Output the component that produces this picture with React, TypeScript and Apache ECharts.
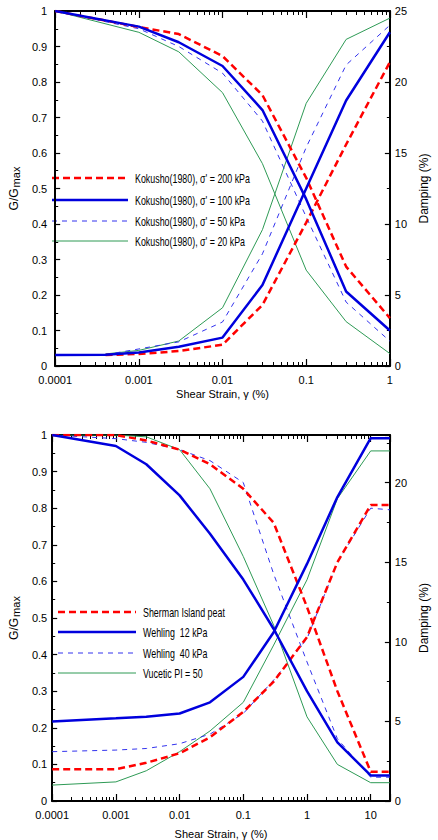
import React, { useEffect, useRef } from 'react';
import * as echarts from 'echarts';

// ---------- Top chart (Kokusho 1980) ----------
const topStrainG = [1e-4, 1e-3, 3e-3, 0.01, 0.03, 0.1, 0.3, 1];
const kok200G = [1.0, 0.955, 0.935, 0.873, 0.763, 0.53, 0.28, 0.135];
const kok100G = [1.0, 0.956, 0.912, 0.845, 0.721, 0.47, 0.21, 0.1];
const kok50G = [1.0, 0.95, 0.9, 0.825, 0.69, 0.42, 0.18, 0.07];
const kok20G = [1.0, 0.94, 0.885, 0.77, 0.57, 0.27, 0.125, 0.035];

const topStrainD = [1e-4, 4e-4, 1e-3, 3e-3, 0.01, 0.03, 0.1, 0.3, 1];
const kok200D = [null, 0.77, 0.85, 1.05, 1.5, 4.3, 10.1, 15.6, 21.4];
const kok100D = [0.77, 0.8, 0.95, 1.35, 2.0, 5.7, 12.5, 18.7, 23.5];
const kok50D = [null, 0.8, 1.2, 1.7, 3.1, 7.9, 15.4, 21.2, 24.0];
const kok20D = [null, 0.85, 1.1, 1.76, 4.1, 9.6, 18.5, 23.0, 24.5];

const topNames = [
  "Kokusho(1980), σ' = 200 kPa",
  "Kokusho(1980), σ' = 100 kPa",
  "Kokusho(1980), σ' = 50 kPa",
  "Kokusho(1980), σ' = 20 kPa",
];
const topStrainTicks = ['0.0001', '0.001', '0.01', '0.1', '1'];

// ---------- Bottom chart (peat / organic soils) ----------
const botStrain = [1e-4, 1e-3, 3e-3, 0.01, 0.03, 0.1, 0.3, 1, 3, 10, 20];
const shermanG = [1.0, 1.0, 0.985, 0.96, 0.92, 0.853, 0.76, 0.53, 0.3, 0.08, 0.08];
const wehling12G = [1.0, 0.97, 0.92, 0.835, 0.73, 0.605, 0.47, 0.3, 0.16, 0.07, 0.07];
const wehling40G = [1.0, 0.99, 0.98, 0.96, 0.93, 0.87, 0.62, 0.38, 0.17, 0.065, 0.065];
const vuceticG = [1.0, 1.0, 0.995, 0.96, 0.853, 0.668, 0.48, 0.23, 0.1, 0.05, 0.05];

const shermanD = [2.0, 2.0, 2.4, 3.0, 4.0, 5.6, 7.5, 10.3, 15.0, 18.6, 18.6];
const wehling12D = [5.0, 5.2, 5.3, 5.5, 6.2, 7.8, 10.6, 14.9, 19.1, 22.8, 22.8];
const wehling40D = [3.1, 3.2, 3.3, 3.6, 4.2, 5.5, 7.6, 10.2, 15.0, 18.4, 18.3];
const vuceticD = [1.0, 1.2, 1.9, 3.1, 4.4, 6.2, 9.8, 13.9, 19.0, 22.0, 22.0];

const botNames = ['Sherman Island peat', 'Wehling  12 kPa', 'Wehling  40 kPa', 'Vucetic PI = 50'];
const botStrainTicks = ['0.0001', '0.001', '0.01', '0.1', '1', '10'];

const FONT = '"Liberation Sans", Arial, sans-serif';

const styles = [
  { color: '#ff0000', width: 2.5, type: [7, 4] as any, dash: [7, 4] },
  { color: '#0000dd', width: 2.5, type: 'solid', dash: null },
  { color: '#3333ee', width: 1, type: [5, 5] as any, dash: [5, 5] },
  { color: '#2e9a55', width: 1, type: 'solid', dash: null },
];

function pairs(xs: number[], ys: (number | null)[]) {
  const out: number[][] = [];
  xs.forEach((x, i) => {
    const y = ys[i];
    if (y !== null && y !== undefined) out.push([x, y]);
  });
  return out;
}

function xFormatter(labels: string[]) {
  return (v: number) => {
    const l = Math.log10(v);
    const k = Math.round(l);
    if (Math.abs(l - k) > 1e-6) return '';
    return labels[k + 4] ?? '';
  };
}

// minor tick positions of a log axis (2..9 times each power of ten)
function logMinorTicks(min: number, max: number) {
  const out: number[] = [];
  for (let k = Math.floor(Math.log10(min)); k <= Math.ceil(Math.log10(max)); k++) {
    for (let m = 2; m <= 9; m++) {
      const v = parseFloat((m * Math.pow(10, k)).toPrecision(6));
      if (v > min && v < max) out.push(v);
    }
  }
  return out;
}

export default function App() {
  const ref = useRef<HTMLDivElement>(null);
  useEffect(() => {
    if (!ref.current) return;
    const chart = echarts.init(ref.current, undefined, { renderer: 'svg' });
    const axisLine = { show: true, lineStyle: { color: '#000', width: 2 } };
    const labelStyle = { color: '#000', fontFamily: FONT, fontSize: 11 };
    const logX = (grid: number, max: number, labels: string[], top: boolean, minor: boolean, nameGap: number) => ({
      type: 'log',
      logBase: 10,
      gridIndex: grid,
      min: 1e-4,
      max,
      position: top ? 'top' : 'bottom',
      axisLine: minor ? { show: false } : axisLine,
      axisTick: minor
        ? { show: true, inside: true, length: 4, customValues: logMinorTicks(1e-4, max), lineStyle: { color: '#000', width: 1 } }
        : { show: true, inside: true, length: 7, lineStyle: { color: '#000', width: 1.2 } },
      splitLine: { show: false },
      axisLabel:
        top || minor
          ? { show: false }
          : { ...labelStyle, margin: 8, formatter: xFormatter(labels), showMinLabel: true, showMaxLabel: true },
      name: top || minor ? '' : 'Shear Strain, γ (%)',
      nameLocation: 'middle',
      nameGap,
      nameTextStyle: { ...labelStyle, fontSize: 11 },
    });
    const gAxis = (grid: number, margin: number) => ({
      type: 'value',
      gridIndex: grid,
      min: 0,
      max: 1,
      interval: 0.1,
      position: 'left',
      axisLine,
      axisTick: { show: true, inside: true, length: 5, lineStyle: { color: '#000', width: 1.2 } },
      minorTick: { show: true, splitNumber: 2, length: 3, lineStyle: { color: '#000', width: 1 } },
      splitLine: { show: false },
      axisLabel: { ...labelStyle, margin },
      name: 'G/G{s|max}',
      nameLocation: 'middle',
      nameRotate: 90,
      nameGap: 20,
      nameTextStyle: { ...labelStyle, fontSize: 12, rich: { s: { fontFamily: FONT, fontSize: 11, color: '#000', padding: [3, 0, 0, 1] } } },
    });
    const dAxis = (grid: number, max: number) => ({
      type: 'value',
      gridIndex: grid,
      min: 0,
      max,
      interval: 5,
      position: 'right',
      axisLine,
      axisTick: { show: true, inside: true, length: 5, lineStyle: { color: '#000', width: 1.2 } },
      minorTick: { show: true, splitNumber: 2, length: 3, lineStyle: { color: '#000', width: 1 } },
      splitLine: { show: false },
      axisLabel: { ...labelStyle, margin: 5, formatter: (v: number) => (v % 5 === 0 ? String(v) : '') },
      name: 'Damping (%)',
      nameLocation: 'middle',
      nameRotate: 90,
      nameGap: 15,
      nameTextStyle: { ...labelStyle, fontSize: 12 },
    });

    const series: any[] = [];
    const addSeries = (name: string, st: any, data: number[][], xi: number, yi: number) => {
      series.push({
        type: 'line',
        name,
        data,
        xAxisIndex: xi,
        yAxisIndex: yi,
        symbol: 'none',
        showSymbol: false,
        lineStyle: { color: st.color, width: st.width, type: st.type },
        itemStyle: { color: st.color },
        color: st.color,
        silent: true,
      });
    };
    const topG = [kok200G, kok100G, kok50G, kok20G];
    const topD = [kok200D, kok100D, kok50D, kok20D];
    const botG = [shermanG, wehling12G, wehling40G, vuceticG];
    const botD = [shermanD, wehling12D, wehling40D, vuceticD];
    const order = [3, 2, 0, 1];
    order.forEach((i) => {
      addSeries(topNames[i], styles[i], pairs(topStrainG, topG[i]), 0, 0);
      addSeries(topNames[i], styles[i], pairs(topStrainD, topD[i]), 0, 1);
      addSeries(botNames[i], styles[i], pairs(botStrain, botG[i]), 4, 2);
      addSeries(botNames[i], styles[i], pairs(botStrain, botD[i]), 4, 3);
    });

    // legend boxes drawn as graphic elements (narrow lettering like the original)
    const legendItems = (names: string[], x0: number, x1: number, tx: number, ys: number[]) => {
      const els: any[] = [];
      names.forEach((n, i) => {
        const st = styles[i];
        els.push({
          type: 'line',
          silent: true,
          shape: { x1: x0, y1: ys[i], x2: x1, y2: ys[i] },
          style: { stroke: st.color, lineWidth: st.width, lineDash: st.dash || undefined },
        });
        els.push({
          type: 'text',
          silent: true,
          x: tx,
          y: ys[i],
          scaleX: 0.74,
          style: { text: n, fill: '#000', fontFamily: FONT, fontSize: 12, verticalAlign: 'middle', align: 'left' },
        });
      });
      return els;
    };

    chart.setOption({
      animation: false,
      backgroundColor: '#ffffff',
      grid: [
        { left: 32, top: 11, width: 375, height: 355 },
        { left: 36, top: 435, width: 377, height: 374 },
      ],
      xAxis: [
        logX(0, 1, topStrainTicks, false, false, 22),
        logX(0, 1, topStrainTicks, false, true, 22),
        logX(0, 1, topStrainTicks, true, false, 22),
        logX(0, 1, topStrainTicks, true, true, 22),
        logX(1, 20, botStrainTicks, false, false, 27),
        logX(1, 20, botStrainTicks, false, true, 27),
        logX(1, 20, botStrainTicks, true, false, 27),
        logX(1, 20, botStrainTicks, true, true, 27),
      ],
      yAxis: [gAxis(0, 8), dAxis(0, 25), gAxis(1, 5), dAxis(1, 23)],
      graphic: [
        ...legendItems(topNames, 52, 128, 135, [178, 200, 221, 241]),
        ...legendItems(botNames, 58, 136, 143, [612, 632, 653, 673]),
      ],
      series,
    });
    return () => chart.dispose();
  }, []);
  return <div ref={ref} style={{ position: 'absolute', left: 0, top: 0, width: 438, height: 840, background: '#fff' }} />;
}
